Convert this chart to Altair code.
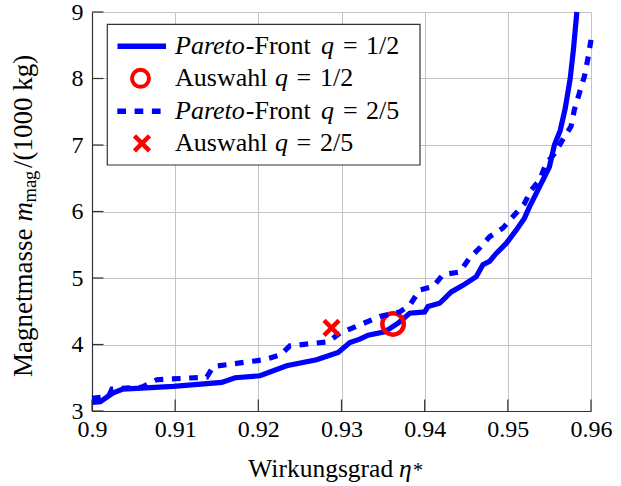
import altair as alt
import pandas as pd

# ---------------- data ----------------
eta_q12 = [0.9000, 0.9010, 0.9025, 0.9037, 0.9098, 0.9156, 0.9172, 0.9202, 0.9234,
           0.9270, 0.9296, 0.9310, 0.9322, 0.9332, 0.9352, 0.9368, 0.9382, 0.9400,
           0.9404, 0.9418, 0.9432, 0.9446, 0.9462, 0.9470, 0.9478, 0.9486, 0.9498,
           0.9510, 0.9520, 0.9526, 0.9534, 0.9542, 0.9550, 0.9556, 0.9563, 0.9569,
           0.9575, 0.9579, 0.9583]
m_q12 = [3.13, 3.14, 3.27, 3.33, 3.37, 3.43, 3.50, 3.53, 3.68,
         3.77, 3.88, 4.03, 4.08, 4.14, 4.19, 4.32, 4.47, 4.49,
         4.57, 4.62, 4.79, 4.89, 5.02, 5.20, 5.25, 5.37, 5.52,
         5.72, 5.90, 6.07, 6.27, 6.47, 6.67, 7.00, 7.22, 7.55,
         8.00, 8.45, 9.00]

eta_q25 = [0.9000, 0.9020, 0.9024, 0.9060, 0.9078, 0.9138, 0.9146, 0.9206, 0.9226,
           0.9238, 0.9284, 0.9298, 0.9346, 0.9370, 0.9382, 0.9394, 0.9410, 0.9422,
           0.9442, 0.9454, 0.9466, 0.9478, 0.9494, 0.9506, 0.9520, 0.9528, 0.9538,
           0.9546, 0.9556, 0.9566, 0.9576, 0.9580, 0.9586, 0.9592, 0.9596, 0.9600]
m_q25 = [3.19, 3.22, 3.33, 3.36, 3.47, 3.51, 3.67, 3.77, 3.84,
         3.98, 4.04, 4.17, 4.42, 4.49, 4.59, 4.82, 4.87, 5.05,
         5.09, 5.30, 5.45, 5.62, 5.75, 5.92, 6.12, 6.32, 6.47,
         6.72, 6.87, 7.08, 7.28, 7.53, 7.78, 8.03, 8.28, 8.58]

sel_q12_eta = [0.9362]
sel_q12_m = [4.31]
sel_q25_eta = [0.9288]
sel_q25_m = [4.25]

x_ticks = [0.90, 0.91, 0.92, 0.93, 0.94, 0.95, 0.96]
y_ticks = [3, 4, 5, 6, 7, 8, 9]

legend_front = ["Pareto", "-Front", "q", "=", "1/2", "2/5"]
legend_sel = ["Auswahl"]
x_title = ["Wirkungsgrad", "\u03b7", "*"]
y_title = ["Magnetmasse", "m", "mag", "/(1000 kg)"]

# ---------------- styling ----------------
SERIF = "Liberation Serif"
BLUE = "#0000ff"
RED = "#ff0000"
CROSS = "M-1,-1L1,1M1,-1L-1,1"

xs = alt.Scale(domain=[0.9, 0.96], nice=False, zero=False)
ys = alt.Scale(domain=[3, 9], nice=False, zero=False)

common_axis = dict(title=None, grid=True, gridColor="#c4c4c4", gridWidth=1,
                   ticks=False, tickSize=0, labelFont=SERIF, labelFontSize=24,
                   labelColor="black", labelOverlap=False, labelFlush=False,
                   domainColor="#333333", domainWidth=1.2)
xaxis = alt.Axis(values=x_ticks, format=".2~f", labelPadding=6, **common_axis)
yaxis = alt.Axis(values=y_ticks, format="d", labelPadding=9, **common_axis)

X = alt.X("eta:Q", scale=xs, axis=xaxis)
Y = alt.Y("m:Q", scale=ys, axis=yaxis)

df12 = pd.DataFrame({"eta": eta_q12, "m": m_q12, "i": range(len(eta_q12))})
df25 = pd.DataFrame({"eta": eta_q25, "m": m_q25, "i": range(len(eta_q25))})
dsel12 = pd.DataFrame({"eta": sel_q12_eta, "m": sel_q12_m})
dsel25 = pd.DataFrame({"eta": sel_q25_eta, "m": sel_q25_m})
dxt = pd.DataFrame({"eta": x_ticks})
dyt = pd.DataFrame({"m": y_ticks})
one = pd.DataFrame({"k": [0]})

line12 = alt.Chart(df12).mark_line(color=BLUE, strokeWidth=5.2).encode(
    x=X, y=Y, order="i:Q")
pt12 = alt.Chart(dsel12).mark_point(shape="circle", size=462, filled=False,
                                    stroke=RED, strokeWidth=4.5, opacity=1).encode(x=X, y=Y)
line25 = alt.Chart(df25).mark_line(color=BLUE, strokeWidth=5.2,
                                   strokeDash=[8.7, 8.6]).encode(x=X, y=Y, order="i:Q")
pt25 = alt.Chart(dsel25).mark_point(shape=CROSS, size=225, filled=False,
                                    stroke=RED, strokeWidth=4.5, opacity=1).encode(x=X, y=Y)

xt = alt.Chart(dxt).mark_rule(color="#333333", strokeWidth=1.2).encode(
    x=X, y=alt.value(399), y2=alt.value(387.5))
yt = alt.Chart(dyt).mark_rule(color="#333333", strokeWidth=1.2).encode(
    y=Y, x=alt.value(0), x2=alt.value(11.5))


def label(s, x, y, size=26, style="normal", angle=0):
    return alt.Chart(one).mark_text(text=s, font=SERIF, fontSize=size, fontStyle=style,
                                    align="left", baseline="alphabetic", angle=angle,
                                    color="black").encode(x=alt.value(x), y=alt.value(y))


# legend
leg_box = alt.Chart(one).mark_rect(fill="white", stroke="#333333", strokeWidth=1.2).encode(
    x=alt.value(15.3), x2=alt.value(328), y=alt.value(12.3), y2=alt.value(153))
leg_solid = alt.Chart(one).mark_rule(color=BLUE, strokeWidth=5.6).encode(
    x=alt.value(25.5), x2=alt.value(74), y=alt.value(34.2))
leg_circle = alt.Chart(one).mark_point(shape="circle", size=289, filled=False, stroke=RED,
                                       strokeWidth=4, opacity=1).encode(
    x=alt.value(48.5), y=alt.value(66.3))
leg_dash = alt.Chart(one).mark_rule(color=BLUE, strokeWidth=5.6, strokeDash=[8.7, 8.6]).encode(
    x=alt.value(25.3), x2=alt.value(69), y=alt.value(99.3))
leg_cross = alt.Chart(one).mark_point(shape=CROSS, size=225, filled=False, stroke=RED,
                                      strokeWidth=4.5, opacity=1).encode(
    x=alt.value(50), y=alt.value(131.3))

leg_texts = []
for base, frac in [(41.5, legend_front[4]), (106.6, legend_front[5])]:
    leg_texts += [label(legend_front[0], 83, base, style="italic"),
                  label(legend_front[1], 153.8, base),
                  label(legend_front[2], 229, base, style="italic"),
                  label(legend_front[3], 251, base),
                  label(frac, 274, base)]
for base, frac in [(73.6, legend_front[4]), (138.6, legend_front[5])]:
    leg_texts += [label(legend_sel[0], 83, base),
                  label(legend_front[2], 183, base, style="italic"),
                  label(legend_front[3], 204.5, base),
                  label(frac, 228, base)]

# axis titles
titles = [
    label(x_title[0], 156.3, 465.3, size=25.5),
    label(x_title[1], 307, 465.3, size=25.5, style="italic"),
    label(x_title[2], 321, 465.3, size=20),
    label(y_title[0], -59.7, 365, size=27, angle=270),
    label(y_title[1], -59.7, 209.5, size=27, style="italic", angle=270),
    label(y_title[2], -56.2, 190.5, size=18.5, angle=270),
    label(y_title[3], -59.7, 156, size=27, angle=270),
]

chart = alt.layer(
    line12, pt12, line25, pt25, xt, yt,
    leg_box, leg_solid, leg_circle, leg_dash, leg_cross,
    *leg_texts, *titles
).properties(
    width=499, height=399,
    autosize=alt.AutoSizeParams(type="none"),
    padding={"left": 92, "top": 12, "right": 30, "bottom": 75},
    background="white",
).configure_view(stroke=None)

chart.save("out.html", embed_options={"renderer": "svg", "actions": False})
